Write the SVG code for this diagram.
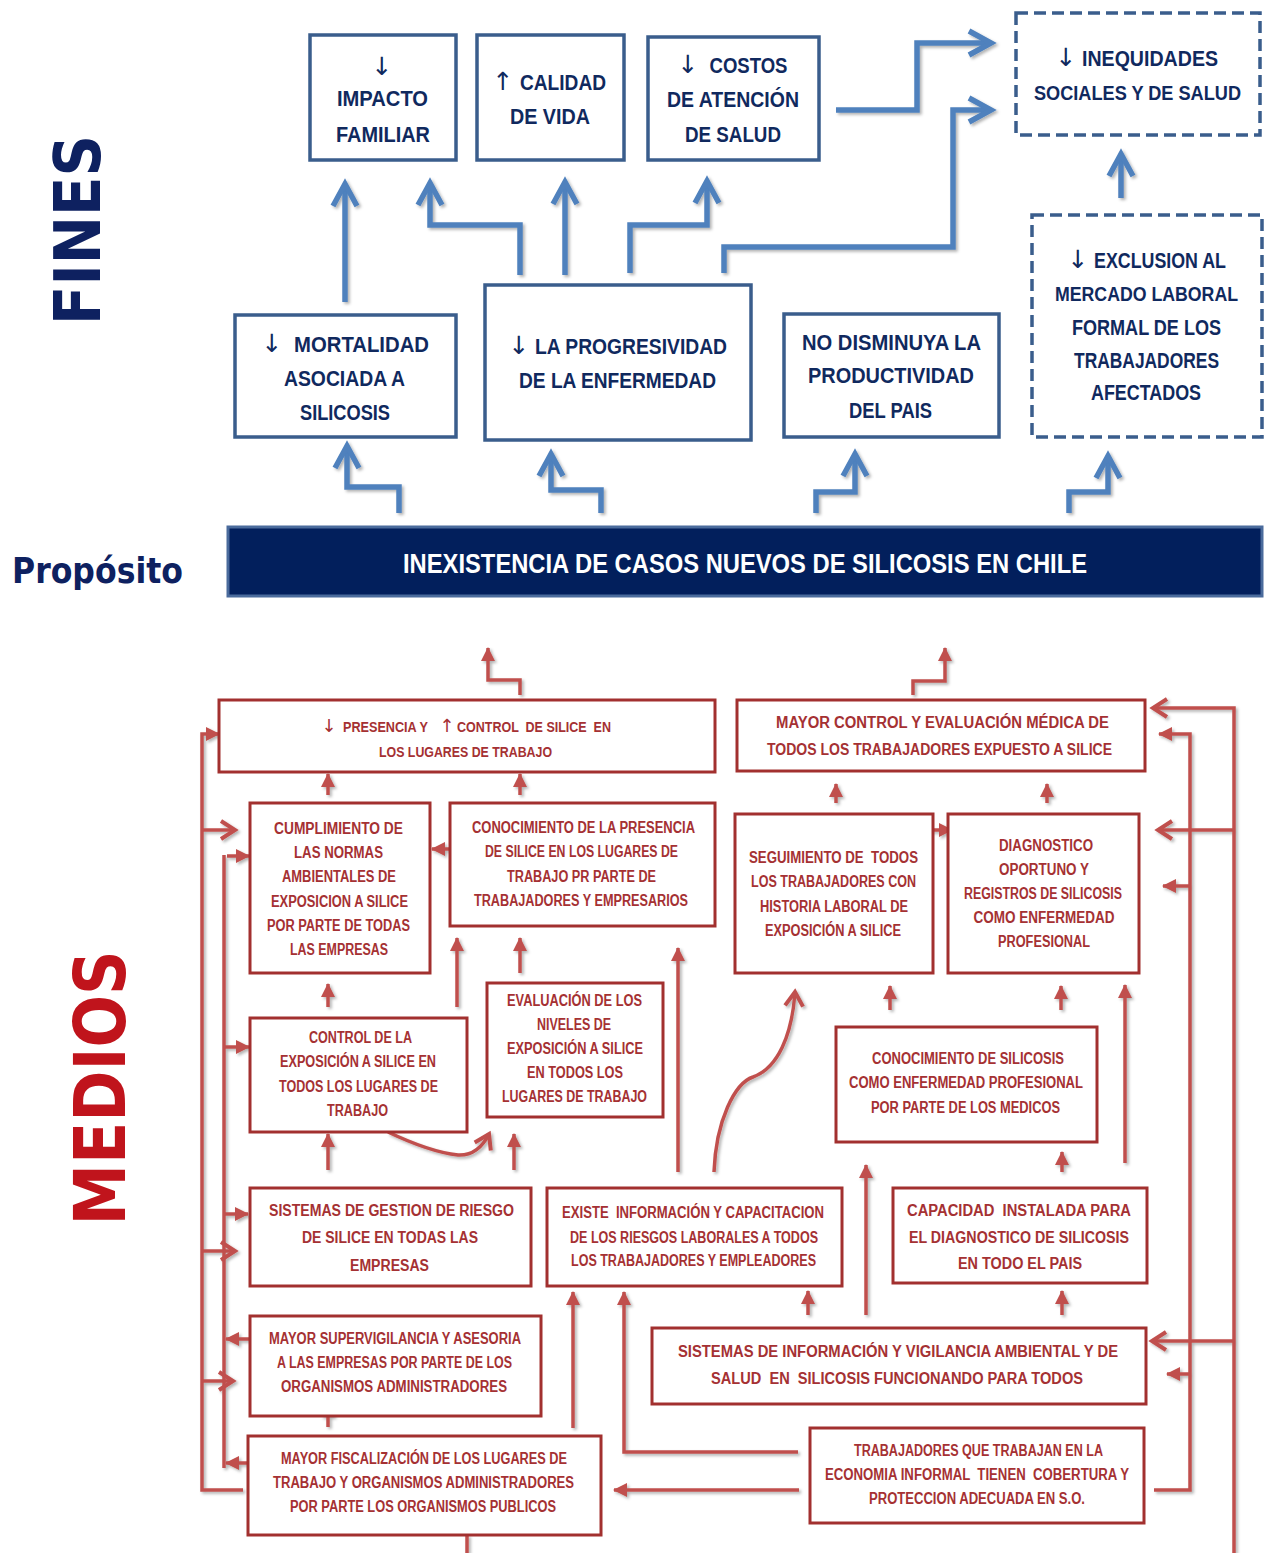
<svg xmlns="http://www.w3.org/2000/svg" width="1264" height="1553" viewBox="0 0 1264 1553">
<defs>
  <style>
    .bt{font-family:"Liberation Sans",Arial,sans-serif;font-weight:bold;font-size:22px;fill:#10295e;text-anchor:middle;white-space:pre}
    .rt{font-family:"Liberation Sans",Arial,sans-serif;font-weight:bold;font-size:16px;fill:#a53133;text-anchor:middle;white-space:pre}
    .ba{font-family:"DejaVu Sans",sans-serif;font-size:25px;fill:#10295e;text-anchor:middle}
    .ra{font-family:"DejaVu Sans",sans-serif;font-size:18px;fill:#a53133;text-anchor:middle}
    .bb{fill:#fff;stroke:#3a5d8c;stroke-width:3.5}
    .bd{fill:#fff;stroke:#3a5d8c;stroke-width:3.5;stroke-dasharray:12 6}
    .rb{fill:#fff;stroke:#a2302f;stroke-width:3}
    .bc{fill:none;stroke:#4f81bd;stroke-width:5.5;stroke-linejoin:miter}
    .rc{fill:none;stroke:#c0504d;stroke-width:3.5}
    .tri{marker-end:url(#redTri)}
    .chv{marker-end:url(#redChev)}
    .title{font-family:"DejaVu Sans",sans-serif;font-weight:bold}
  </style>
  <marker id="blueChev" markerUnits="userSpaceOnUse" viewBox="-30 -18 36 36" markerWidth="36" markerHeight="36" refX="0" refY="0" orient="auto" overflow="visible">
    <path d="M-22,-12 L0,0 L-22,12" fill="none" stroke="#4f81bd" stroke-width="5.5"/>
  </marker>
  <marker id="redChev" markerUnits="userSpaceOnUse" viewBox="-20 -14 26 28" markerWidth="26" markerHeight="28" refX="0" refY="0" orient="auto" overflow="visible">
    <path d="M-14,-9 L0,0 L-14,9" fill="none" stroke="#c0504d" stroke-width="4"/>
  </marker>
  <marker id="redTri" markerUnits="userSpaceOnUse" viewBox="0 0 14 14" markerWidth="14" markerHeight="14" refX="13" refY="7" orient="auto" overflow="visible">
    <path d="M0,0 L14,7 L0,14 z" fill="#c0504d"/>
  </marker>
  <filter id="sh" x="-5%" y="-5%" width="110%" height="110%">
    <feDropShadow dx="2" dy="2" stdDeviation="1.5" flood-color="#000" flood-opacity="0.3"/>
  </filter>
</defs>

<rect width="1264" height="1553" fill="#fff"/>

<!-- section titles -->
<g id="titles">
  <text class="title" transform="translate(100,230) rotate(-90)" x="0" y="0" font-size="64" fill="#0e2160" text-anchor="middle" textLength="190" lengthAdjust="spacingAndGlyphs">FINES</text>
  <text class="title" x="12" y="583" font-size="35" fill="#0e2160" textLength="171" lengthAdjust="spacingAndGlyphs">Propósito</text>
  <text class="title" transform="translate(125,1088) rotate(-90)" x="0" y="0" font-size="72" fill="#c0141c" text-anchor="middle" textLength="275" lengthAdjust="spacingAndGlyphs">MEDIOS</text>
</g>

<!-- blue connectors (fines) -->
<g id="fines-connectors" filter="url(#sh)">
  <g class="bc" marker-end="url(#blueChev)">
    <path d="M345,302 V184"/>
    <path d="M520,275 V225 H430 V183"/>
    <path d="M565,275 V182"/>
    <path d="M630,273 V225 H707 V181"/>
    <path d="M724,273 V247 H953 V110 H991"/>
    <path d="M836,110 H917 V43 H991"/>
    <path d="M1121,198 V154"/>
    <path d="M399,513 V487 H347 V446"/>
    <path d="M601,513 V490 H551 V454"/>
    <path d="M816,513 V492 H855 V454"/>
    <path d="M1069,513 V492 H1108 V456"/>
  </g>
</g>

<!-- fines nodes -->
<g id="impacto-familiar">
  <rect class="bb" x="310" y="35" width="146" height="125"/>
  <text class="ba" x="382" y="75">↓</text>
  <text class="bt" x="382.5" y="106" textLength="91" lengthAdjust="spacingAndGlyphs">IMPACTO</text>
  <text class="bt" x="383" y="142" textLength="94" lengthAdjust="spacingAndGlyphs">FAMILIAR</text>
</g>
<g id="calidad-vida">
  <rect class="bb" x="477" y="35" width="147" height="125"/>
  <text class="ba" x="503" y="90">↑</text>
  <text class="bt" x="563" y="90" textLength="86" lengthAdjust="spacingAndGlyphs">CALIDAD</text>
  <text class="bt" x="550" y="124" textLength="80" lengthAdjust="spacingAndGlyphs">DE VIDA</text>
</g>
<g id="costos-atencion">
  <rect class="bb" x="648" y="37" width="171" height="123"/>
  <text class="ba" x="688" y="73">↓</text>
  <text class="bt" x="748.5" y="73" textLength="78" lengthAdjust="spacingAndGlyphs">COSTOS</text>
  <text class="bt" x="733" y="107" textLength="132" lengthAdjust="spacingAndGlyphs">DE ATENCIÓN</text>
  <text class="bt" x="733" y="142" textLength="96" lengthAdjust="spacingAndGlyphs">DE SALUD</text>
</g>
<g id="inequidades">
  <rect class="bd" x="1016" y="13" width="244" height="122"/>
  <text class="ba" x="1066" y="66">↓</text>
  <text class="bt" x="1150" y="66" textLength="136" lengthAdjust="spacingAndGlyphs">INEQUIDADES</text>
  <text class="bt" x="1137.5" y="100" style="font-size:20px" textLength="207" lengthAdjust="spacingAndGlyphs">SOCIALES Y DE SALUD</text>
</g>
<g id="mortalidad">
  <rect class="bb" x="235" y="315" width="221" height="122"/>
  <text class="ba" x="272" y="352">↓</text>
  <text class="bt" x="361.5" y="352" textLength="135" lengthAdjust="spacingAndGlyphs">MORTALIDAD</text>
  <text class="bt" x="344.5" y="386" textLength="121" lengthAdjust="spacingAndGlyphs">ASOCIADA A</text>
  <text class="bt" x="345" y="420" textLength="90" lengthAdjust="spacingAndGlyphs">SILICOSIS</text>
</g>
<g id="progresividad">
  <rect class="bb" x="485" y="285" width="266" height="155"/>
  <text class="ba" x="519" y="354">↓</text>
  <text class="bt" x="631" y="354" textLength="192" lengthAdjust="spacingAndGlyphs">LA PROGRESIVIDAD</text>
  <text class="bt" x="617.5" y="388" textLength="197" lengthAdjust="spacingAndGlyphs">DE LA ENFERMEDAD</text>
</g>
<g id="productividad">
  <rect class="bb" x="784" y="314" width="215" height="123"/>
  <text class="bt" x="891.5" y="350" textLength="179" lengthAdjust="spacingAndGlyphs">NO DISMINUYA LA</text>
  <text class="bt" x="891" y="383" textLength="166" lengthAdjust="spacingAndGlyphs">PRODUCTIVIDAD</text>
  <text class="bt" x="890.5" y="418" textLength="83" lengthAdjust="spacingAndGlyphs">DEL PAIS</text>
</g>
<g id="exclusion">
  <rect class="bd" x="1032" y="215" width="230" height="222"/>
  <text class="ba" x="1078" y="268">↓</text>
  <text class="bt" x="1160" y="268" textLength="132" lengthAdjust="spacingAndGlyphs">EXCLUSION AL</text>
  <text class="bt" x="1146.5" y="301" style="font-size:20px" textLength="183" lengthAdjust="spacingAndGlyphs">MERCADO LABORAL</text>
  <text class="bt" x="1146.5" y="335" textLength="149" lengthAdjust="spacingAndGlyphs">FORMAL DE LOS</text>
  <text class="bt" x="1146.5" y="368" textLength="145" lengthAdjust="spacingAndGlyphs">TRABAJADORES</text>
  <text class="bt" x="1146" y="400" textLength="110" lengthAdjust="spacingAndGlyphs">AFECTADOS</text>
</g>

<!-- purpose bar -->
<g id="proposito">
  <rect x="228" y="527" width="1034" height="69" fill="#021f5c" stroke="#4a6b9c" stroke-width="3"/>
  <text x="745" y="573" font-family="Liberation Sans, Arial, sans-serif" font-weight="bold" font-size="28" fill="#fff" text-anchor="middle" textLength="684" lengthAdjust="spacingAndGlyphs">INEXISTENCIA DE CASOS NUEVOS DE SILICOSIS EN CHILE</text>
</g>

<!-- red connectors (medios) -->
<g id="medios-connectors" filter="url(#sh)">
  <g class="rc">
    <!-- outer left bus -->
    <path class="tri" d="M243,1490 H202 V734 H219"/>
    <path class="chv" d="M202,830 H235"/>
    <path class="chv" d="M202,1251 H235"/>
    <path class="chv" d="M202,1381 H233"/>
    <!-- inner left bus -->
    <path class="tri" d="M250,1339 H226"/>
    <path class="tri" d="M248,1463 H226"/>
    <path d="M224,1468 V855"/>
    <path class="tri" d="M227,856 H249"/>
    <path class="tri" d="M224,1047 H249"/>
    <path class="tri" d="M224,1214 H248"/>
    <!-- outgoing to purpose -->
    <path class="tri" d="M520,695 V680 H488 V648"/>
    <path class="tri" d="M913,695 V681 H945 V648"/>
    <!-- vertical links -->
    <path class="tri" d="M328,795 V774"/>
    <path class="tri" d="M520,795 V774"/>
    <path class="tri" d="M450,849 H432"/>
    <path class="tri" d="M836,803 V784"/>
    <path class="tri" d="M1047,803 V784"/>
    <path class="tri" d="M926,830 H952"/>
    <path class="tri" d="M457,1007 V938"/>
    <path class="tri" d="M520,973 V938"/>
    <path class="tri" d="M678,1172 V948"/>
    <path class="tri" d="M328,1007 V984"/>
    <path class="tri" d="M328,1170 V1134"/>
    <path class="tri" d="M514,1170 V1134"/>
    <path class="chv" d="M388,1132 Q430,1152 458,1155 Q478,1156 489,1134"/>
    <path class="chv" d="M714,1172 C716,1120 735,1083 753,1077 C778,1068 792,1035 795,992"/>
    <path class="tri" d="M890,1010 V986"/>
    <path class="tri" d="M1061,1010 V986"/>
    <path class="tri" d="M1125,1163 V985"/>
    <path class="tri" d="M1062,1172 V1152"/>
    <path class="tri" d="M866,1315 V1165"/>
    <path class="tri" d="M808,1315 V1291"/>
    <path class="tri" d="M1062,1315 V1291"/>
    <path class="tri" d="M328,1427 V1404"/>
    <path class="tri" d="M573,1428 V1292"/>
    <path class="tri" d="M798,1452 H624 V1292"/>
    <path class="tri" d="M799,1490 H614"/>
    <path d="M467,1535 V1553"/>
    <!-- right buses -->
    <path class="chv" d="M1234,1553 V708 H1153"/>
    <path class="chv" d="M1234,830 H1158"/>
    <path class="chv" d="M1234,1341 H1152"/>
    <path class="tri" d="M1154,1490 H1190 V734 H1159"/>
    <path class="tri" d="M1190,886 H1163"/>
    <path class="tri" d="M1190,1374 H1167"/>
  </g>
</g>

<!-- medios nodes -->
<g id="presencia-control">
  <rect class="rb" x="219" y="700" width="496" height="72"/>
  <text class="ra" x="329" y="732">↓</text>
  <text class="rt" x="343" y="732" style="font-size:14px;text-anchor:start" textLength="85" lengthAdjust="spacingAndGlyphs">PRESENCIA Y</text>
  <text class="ra" x="447" y="732">↑</text>
  <text class="rt" x="457" y="732" style="font-size:15px;text-anchor:start" textLength="154" lengthAdjust="spacingAndGlyphs">CONTROL  DE SILICE  EN</text>
  <text class="rt" x="465.5" y="757" style="font-size:15px" textLength="173" lengthAdjust="spacingAndGlyphs">LOS LUGARES DE TRABAJO</text>
</g>
<g id="control-medico">
  <rect class="rb" x="737" y="700" width="408" height="71"/>
  <text class="rt" x="942.5" y="728" textLength="333" lengthAdjust="spacingAndGlyphs">MAYOR CONTROL Y EVALUACIÓN MÉDICA DE</text>
  <text class="rt" x="939.5" y="755" textLength="345" lengthAdjust="spacingAndGlyphs">TODOS LOS TRABAJADORES EXPUESTO A SILICE</text>
</g>
<g id="cumplimiento-normas">
  <rect class="rb" x="250" y="803" width="180" height="170"/>
  <text class="rt" x="338.5" y="834" textLength="129" lengthAdjust="spacingAndGlyphs">CUMPLIMIENTO DE</text>
  <text class="rt" x="338.5" y="858" textLength="89" lengthAdjust="spacingAndGlyphs">LAS NORMAS</text>
  <text class="rt" x="339" y="882" textLength="114" lengthAdjust="spacingAndGlyphs">AMBIENTALES DE</text>
  <text class="rt" x="339.5" y="907" textLength="137" lengthAdjust="spacingAndGlyphs">EXPOSICION A SILICE</text>
  <text class="rt" x="338.5" y="931" textLength="143" lengthAdjust="spacingAndGlyphs">POR PARTE DE TODAS</text>
  <text class="rt" x="339" y="955" textLength="98" lengthAdjust="spacingAndGlyphs">LAS EMPRESAS</text>
</g>
<g id="conocimiento-presencia">
  <rect class="rb" x="450" y="803" width="265" height="123"/>
  <text class="rt" x="583.5" y="833" textLength="223" lengthAdjust="spacingAndGlyphs">CONOCIMIENTO DE LA PRESENCIA</text>
  <text class="rt" x="581.5" y="857" textLength="193" lengthAdjust="spacingAndGlyphs">DE SILICE EN LOS LUGARES DE</text>
  <text class="rt" x="581.5" y="882" textLength="149" lengthAdjust="spacingAndGlyphs">TRABAJO PR PARTE DE</text>
  <text class="rt" x="581" y="906" textLength="214" lengthAdjust="spacingAndGlyphs">TRABAJADORES Y EMPRESARIOS</text>
</g>
<g id="seguimiento">
  <rect class="rb" x="735" y="814" width="198" height="159"/>
  <text class="rt" x="833.5" y="863" textLength="169" lengthAdjust="spacingAndGlyphs">SEGUIMIENTO DE  TODOS</text>
  <text class="rt" x="833.5" y="887" textLength="165" lengthAdjust="spacingAndGlyphs">LOS TRABAJADORES CON</text>
  <text class="rt" x="834" y="912" textLength="148" lengthAdjust="spacingAndGlyphs">HISTORIA LABORAL DE</text>
  <text class="rt" x="833" y="936" textLength="136" lengthAdjust="spacingAndGlyphs">EXPOSICIÓN A SILICE</text>
</g>
<g id="diagnostico">
  <rect class="rb" x="948" y="814" width="191" height="159"/>
  <text class="rt" x="1046" y="851" textLength="94" lengthAdjust="spacingAndGlyphs">DIAGNOSTICO</text>
  <text class="rt" x="1044" y="875" textLength="90" lengthAdjust="spacingAndGlyphs">OPORTUNO Y</text>
  <text class="rt" x="1043" y="899" textLength="158" lengthAdjust="spacingAndGlyphs">REGISTROS DE SILICOSIS</text>
  <text class="rt" x="1044" y="923" textLength="141" lengthAdjust="spacingAndGlyphs">COMO ENFERMEDAD</text>
  <text class="rt" x="1044" y="947" textLength="92" lengthAdjust="spacingAndGlyphs">PROFESIONAL</text>
</g>
<g id="control-exposicion">
  <rect class="rb" x="250" y="1018" width="217" height="114"/>
  <text class="rt" x="360.5" y="1043" textLength="103" lengthAdjust="spacingAndGlyphs">CONTROL DE LA</text>
  <text class="rt" x="358" y="1067" textLength="156" lengthAdjust="spacingAndGlyphs">EXPOSICIÓN A SILICE EN</text>
  <text class="rt" x="358.5" y="1092" textLength="159" lengthAdjust="spacingAndGlyphs">TODOS LOS LUGARES DE</text>
  <text class="rt" x="357.5" y="1116" textLength="61" lengthAdjust="spacingAndGlyphs">TRABAJO</text>
</g>
<g id="evaluacion-niveles">
  <rect class="rb" x="487" y="983" width="176" height="134"/>
  <text class="rt" x="574.5" y="1006" textLength="135" lengthAdjust="spacingAndGlyphs">EVALUACIÓN DE LOS</text>
  <text class="rt" x="574" y="1030" textLength="74" lengthAdjust="spacingAndGlyphs">NIVELES DE</text>
  <text class="rt" x="575" y="1054" textLength="136" lengthAdjust="spacingAndGlyphs">EXPOSICIÓN A SILICE</text>
  <text class="rt" x="575" y="1078" textLength="96" lengthAdjust="spacingAndGlyphs">EN TODOS LOS</text>
  <text class="rt" x="574.5" y="1102" textLength="145" lengthAdjust="spacingAndGlyphs">LUGARES DE TRABAJO</text>
</g>
<g id="conocimiento-silicosis">
  <rect class="rb" x="836" y="1027" width="261" height="115"/>
  <text class="rt" x="968" y="1064" textLength="192" lengthAdjust="spacingAndGlyphs">CONOCIMIENTO DE SILICOSIS</text>
  <text class="rt" x="966" y="1088" textLength="234" lengthAdjust="spacingAndGlyphs">COMO ENFERMEDAD PROFESIONAL</text>
  <text class="rt" x="965.5" y="1113" textLength="189" lengthAdjust="spacingAndGlyphs">POR PARTE DE LOS MEDICOS</text>
</g>
<g id="gestion-riesgo">
  <rect class="rb" x="250" y="1188" width="281" height="98"/>
  <text class="rt" x="391.5" y="1216" textLength="245" lengthAdjust="spacingAndGlyphs">SISTEMAS DE GESTION DE RIESGO</text>
  <text class="rt" x="390" y="1243" textLength="176" lengthAdjust="spacingAndGlyphs">DE SILICE EN TODAS LAS</text>
  <text class="rt" x="389.5" y="1271" textLength="79" lengthAdjust="spacingAndGlyphs">EMPRESAS</text>
</g>
<g id="informacion-capacitacion">
  <rect class="rb" x="547" y="1188" width="295" height="98"/>
  <text class="rt" x="693" y="1218" textLength="262" lengthAdjust="spacingAndGlyphs">EXISTE  INFORMACIÓN Y CAPACITACION</text>
  <text class="rt" x="694" y="1243" textLength="248" lengthAdjust="spacingAndGlyphs">DE LOS RIESGOS LABORALES A TODOS</text>
  <text class="rt" x="693.5" y="1266" textLength="245" lengthAdjust="spacingAndGlyphs">LOS TRABAJADORES Y EMPLEADORES</text>
</g>
<g id="capacidad-diagnostico">
  <rect class="rb" x="893" y="1188" width="254" height="95"/>
  <text class="rt" x="1019" y="1216" textLength="224" lengthAdjust="spacingAndGlyphs">CAPACIDAD  INSTALADA PARA</text>
  <text class="rt" x="1019" y="1243" textLength="220" lengthAdjust="spacingAndGlyphs">EL DIAGNOSTICO DE SILICOSIS</text>
  <text class="rt" x="1020" y="1269" textLength="124" lengthAdjust="spacingAndGlyphs">EN TODO EL PAIS</text>
</g>
<g id="supervigilancia">
  <rect class="rb" x="250" y="1316" width="291" height="100"/>
  <text class="rt" x="395" y="1344" textLength="252" lengthAdjust="spacingAndGlyphs">MAYOR SUPERVIGILANCIA Y ASESORIA</text>
  <text class="rt" x="394.5" y="1368" textLength="235" lengthAdjust="spacingAndGlyphs">A LAS EMPRESAS POR PARTE DE LOS</text>
  <text class="rt" x="394" y="1392" textLength="226" lengthAdjust="spacingAndGlyphs">ORGANISMOS ADMINISTRADORES</text>
</g>
<g id="fiscalizacion">
  <rect class="rb" x="248" y="1436" width="353" height="99"/>
  <text class="rt" x="424" y="1464" textLength="286" lengthAdjust="spacingAndGlyphs">MAYOR FISCALIZACIÓN DE LOS LUGARES DE</text>
  <text class="rt" x="423.5" y="1488" textLength="301" lengthAdjust="spacingAndGlyphs">TRABAJO Y ORGANISMOS ADMINISTRADORES</text>
  <text class="rt" x="423" y="1512" textLength="266" lengthAdjust="spacingAndGlyphs">POR PARTE LOS ORGANISMOS PUBLICOS</text>
</g>
<g id="vigilancia-ambiental">
  <rect class="rb" x="652" y="1328" width="494" height="76"/>
  <text class="rt" x="898" y="1357" textLength="440" lengthAdjust="spacingAndGlyphs">SISTEMAS DE INFORMACIÓN Y VIGILANCIA AMBIENTAL Y DE</text>
  <text class="rt" x="897" y="1384" textLength="372" lengthAdjust="spacingAndGlyphs">SALUD  EN  SILICOSIS FUNCIONANDO PARA TODOS</text>
</g>
<g id="economia-informal">
  <rect class="rb" x="810" y="1428" width="334" height="95"/>
  <text class="rt" x="978.5" y="1456" textLength="249" lengthAdjust="spacingAndGlyphs">TRABAJADORES QUE TRABAJAN EN LA</text>
  <text class="rt" x="977" y="1480" textLength="304" lengthAdjust="spacingAndGlyphs">ECONOMIA INFORMAL  TIENEN  COBERTURA Y</text>
  <text class="rt" x="977" y="1504" textLength="216" lengthAdjust="spacingAndGlyphs">PROTECCION ADECUADA EN S.O.</text>
</g>
</svg>
